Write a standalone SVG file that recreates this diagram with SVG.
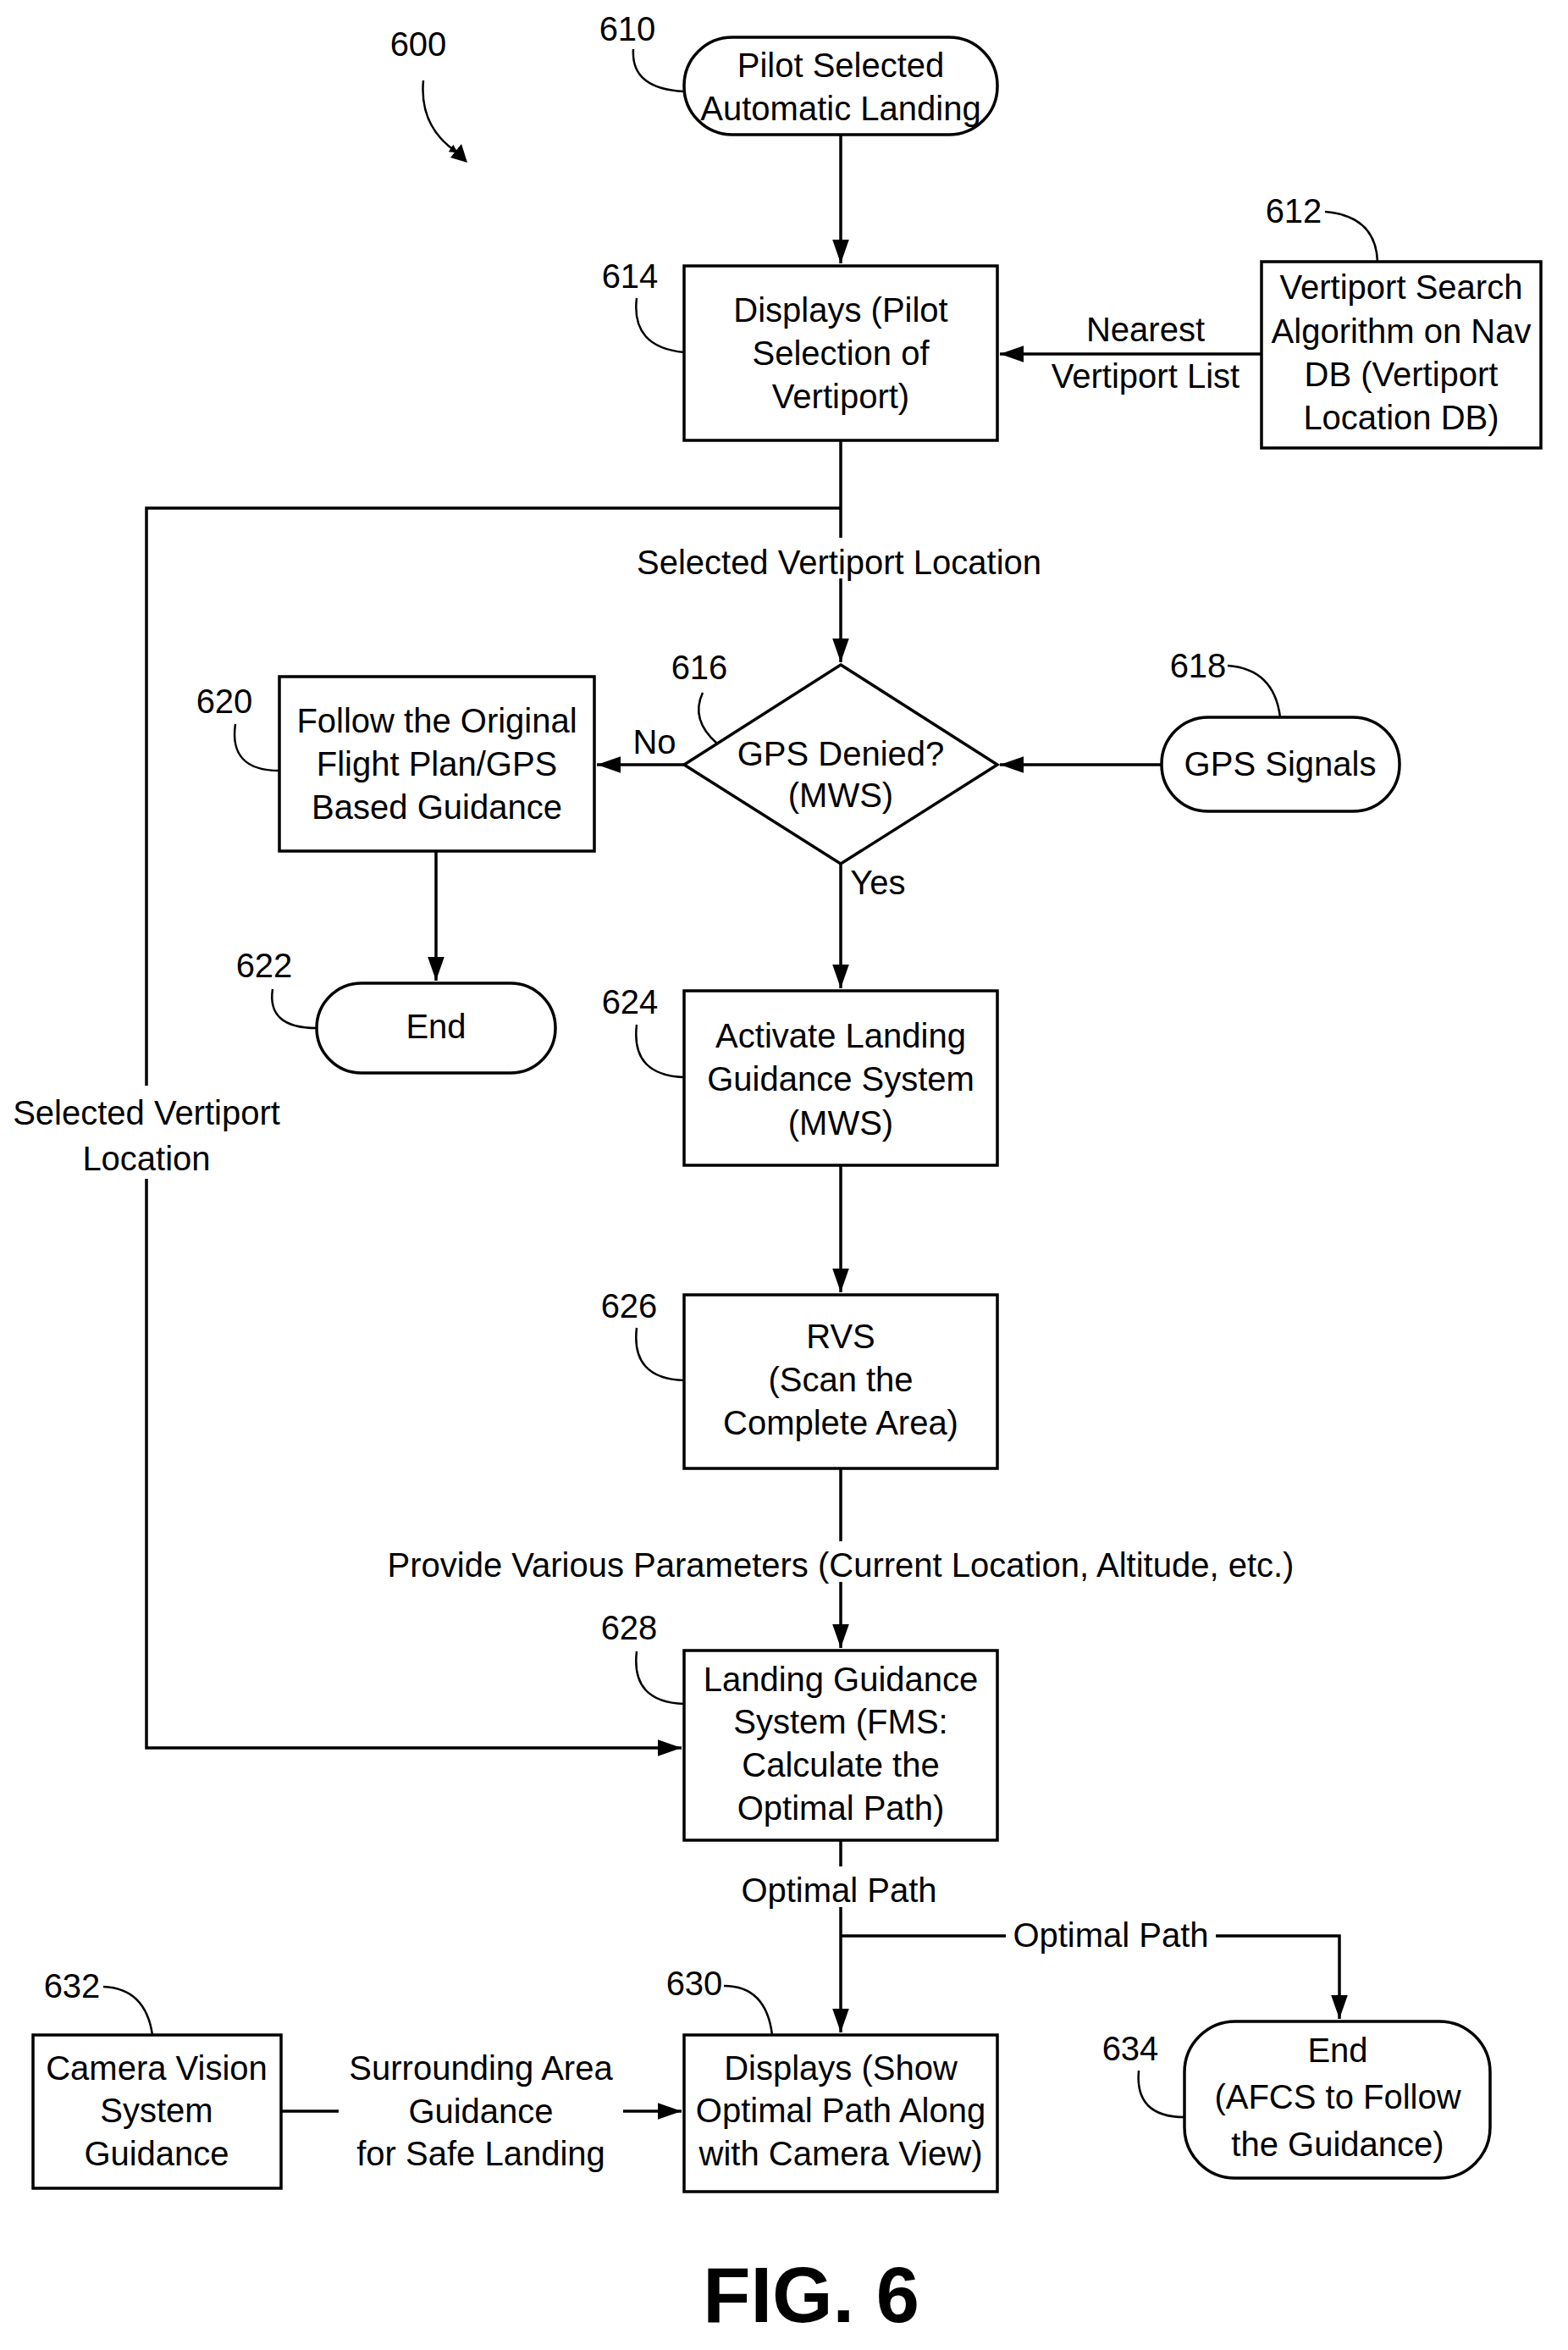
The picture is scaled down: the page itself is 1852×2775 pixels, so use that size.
<svg xmlns="http://www.w3.org/2000/svg" width="1852" height="2775" viewBox="0 0 1852 2775">
<style>
.n{fill:#fff;stroke:#000;stroke-width:3.5}
.c{fill:none;stroke:#000;stroke-width:3.5}
.l{fill:none;stroke:#000;stroke-width:2.5}
text{font-family:"Liberation Sans Narrow","Liberation Sans",Arial,sans-serif;font-size:40px;text-anchor:middle;fill:#000}
.bg{fill:#fff;stroke:none}
</style>
<defs><marker id="a" markerWidth="10" markerHeight="10" refX="9" refY="5" orient="auto" markerUnits="userSpaceOnUse" viewBox="0 0 10 10"><path d="M0,0L10,5L0,10z"/></marker>
<marker id="ah" viewBox="0 0 10 10" refX="10" refY="5" markerWidth="28" markerHeight="28" markerUnits="userSpaceOnUse" orient="auto"><path d="M0,1.5L10,5L0,8.5z"/></marker></defs>
<rect width="1852" height="2775" fill="#fff"/>
<g id="connectors">
<path class="c" d="M993,159V311" marker-end="url(#ah)"/>
<path class="c" d="M1490,418H1181" marker-end="url(#ah)"/>
<path class="c" d="M993,520V782" marker-end="url(#ah)"/>
<path class="c" d="M993,600H173V2064H805" marker-end="url(#ah)"/>
<path class="c" d="M1372,903H1181" marker-end="url(#ah)"/>
<path class="c" d="M808,903H705" marker-end="url(#ah)"/>
<path class="c" d="M515,1005V1158" marker-end="url(#ah)"/>
<path class="c" d="M993,1020V1167" marker-end="url(#ah)"/>
<path class="c" d="M993,1376V1526" marker-end="url(#ah)"/>
<path class="c" d="M993,1734V1946" marker-end="url(#ah)"/>
<path class="c" d="M993,2173V2400" marker-end="url(#ah)"/>
<path class="c" d="M993,2286H1582V2384" marker-end="url(#ah)"/>
<path class="c" d="M332,2493H805" marker-end="url(#ah)"/>
<rect class="bg" x="745" y="635" width="492" height="48"/>
<text x="991" y="678">Selected Vertiport Location</text>
<rect class="bg" x="20" y="1282" width="306" height="110"/>
<text x="173" y="1328">Selected Vertiport</text>
<text x="173" y="1382">Location</text>
<rect class="bg" x="450" y="1820" width="1086" height="48"/>
<text x="993" y="1862">Provide Various Parameters (Current Location, Altitude, etc.)</text>
<rect class="bg" x="870" y="2204" width="244" height="48"/>
<text x="991" y="2246">Optimal Path</text>
<rect class="bg" x="1188" y="2262" width="248" height="48"/>
<text x="1312" y="2299">Optimal Path</text>
<rect class="bg" x="400" y="2468" width="336" height="50"/>
<text x="568" y="2456">Surrounding Area</text>
<text x="568" y="2507">Guidance</text>
<text x="568" y="2557">for Safe Landing</text>
<text x="1353" y="403">Nearest</text>
<text x="1353" y="458">Vertiport List</text>
<text x="773" y="890">No</text>
<text x="1037" y="1056">Yes</text>
</g>
<g id="n600"><text x="494" y="66">600</text><path class="l" d="M500,95Q495,150 540,180" marker-end="url(#a)"/><path d="M552,192L532,186L545,170z"/></g>
<g id="n610"><rect class="n" x="808" y="44" width="370" height="115" rx="57"/><text x="993" y="91">Pilot Selected</text><text x="993" y="142">Automatic Landing</text><text x="741" y="48">610</text><path class="l" d="M748,58Q745,105 808,108"/></g>
<g id="n614"><rect class="n" x="808" y="314" width="370" height="206"/><text x="993" y="380">Displays (Pilot</text><text x="993" y="431">Selection of</text><text x="993" y="482">Vertiport)</text><text x="744" y="340">614</text><path class="l" d="M752,352Q745,410 808,416"/></g>
<g id="n612"><rect class="n" x="1490" y="309" width="330" height="220"/><text x="1655" y="353">Vertiport Search</text><text x="1655" y="405">Algorithm on Nav</text><text x="1655" y="456">DB (Vertiport</text><text x="1655" y="507">Location DB)</text><text x="1528" y="263">612</text><path class="l" d="M1565,250Q1625,255 1627,309"/></g>
<g id="n616"><path class="n" d="M993,785L1178,903L993,1020L808,903z"/><text x="993" y="904">GPS Denied?</text><text x="993" y="953">(MWS)</text><text x="826" y="802">616</text><path class="l" d="M830,818Q815,850 847,878"/></g>
<g id="n618"><rect class="n" x="1372" y="847" width="281" height="111" rx="55"/><text x="1512" y="916">GPS Signals</text><text x="1415" y="800">618</text><path class="l" d="M1450,786Q1505,790 1512,847"/></g>
<g id="n620"><rect class="n" x="330" y="799" width="372" height="206"/><text x="516" y="865">Follow the Original</text><text x="516" y="916">Flight Plan/GPS</text><text x="516" y="967">Based Guidance</text><text x="265" y="842">620</text><path class="l" d="M278,855Q270,910 330,910"/></g>
<g id="n622"><rect class="n" x="374" y="1161" width="282" height="106" rx="53"/><text x="515" y="1226">End</text><text x="312" y="1154">622</text><path class="l" d="M322,1168Q315,1214 374,1214"/></g>
<g id="n624"><rect class="n" x="808" y="1170" width="370" height="206"/><text x="993" y="1237">Activate Landing</text><text x="993" y="1288">Guidance System</text><text x="993" y="1340">(MWS)</text><text x="744" y="1197">624</text><path class="l" d="M752,1210Q745,1270 808,1272"/></g>
<g id="n626"><rect class="n" x="808" y="1529" width="370" height="205"/><text x="993" y="1592">RVS</text><text x="993" y="1643">(Scan the</text><text x="993" y="1694">Complete Area)</text><text x="743" y="1556">626</text><path class="l" d="M752,1568Q745,1628 808,1630"/></g>
<g id="n628"><rect class="n" x="808" y="1949" width="370" height="224"/><text x="993" y="1997">Landing Guidance</text><text x="993" y="2047">System (FMS:</text><text x="993" y="2098">Calculate the</text><text x="993" y="2149">Optimal Path)</text><text x="743" y="1936">628</text><path class="l" d="M752,1950Q745,2010 808,2012"/></g>
<g id="n630"><rect class="n" x="808" y="2403" width="370" height="185"/><text x="993" y="2456">Displays (Show</text><text x="993" y="2506">Optimal Path Along</text><text x="993" y="2557">with Camera View)</text><text x="820" y="2356">630</text><path class="l" d="M855,2345Q905,2345 912,2403"/></g>
<g id="n632"><rect class="n" x="39" y="2403" width="293" height="181"/><text x="185" y="2456">Camera Vision</text><text x="185" y="2506">System</text><text x="185" y="2557">Guidance</text><text x="85" y="2359">632</text><path class="l" d="M122,2346Q172,2348 180,2403"/></g>
<g id="n634"><rect class="n" x="1399" y="2387" width="361" height="185" rx="60"/><text x="1580" y="2435">End</text><text x="1580" y="2490">(AFCS to Follow</text><text x="1580" y="2546">the Guidance)</text><text x="1335" y="2433">634</text><path class="l" d="M1345,2445Q1340,2500 1399,2500"/></g>
<text x="958" y="2742" style="font-family:'Liberation Sans',Arial,sans-serif;font-size:92px;font-weight:bold">FIG. 6</text>
</svg>
